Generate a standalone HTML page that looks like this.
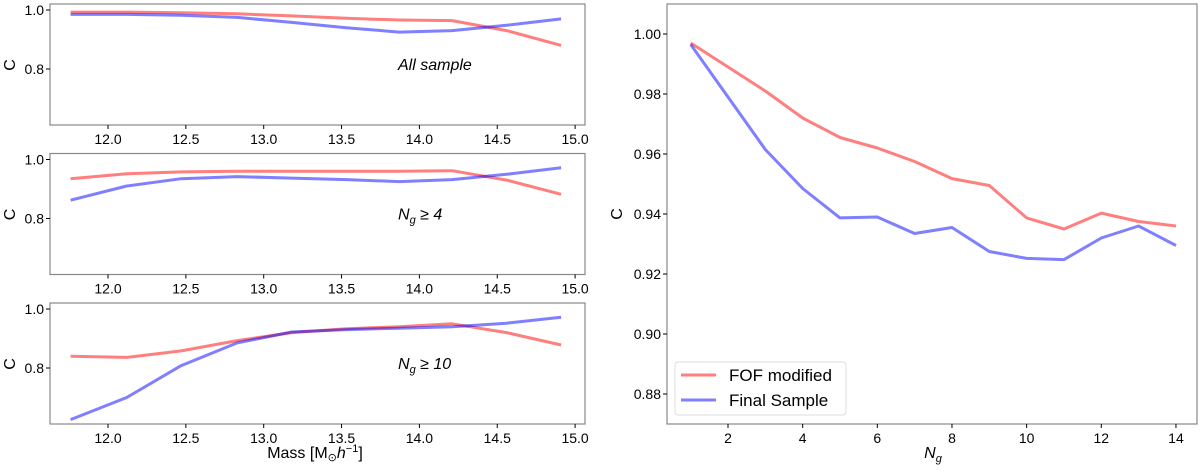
<!DOCTYPE html>
<html><head><meta charset="utf-8"><style>
body{margin:0;background:#fff}
svg text{font-family:"Liberation Sans","DejaVu Sans",sans-serif;fill:#000}
</style></head><body>
<svg id="chart" width="1200" height="469" xmlns="http://www.w3.org/2000/svg"></svg>
<script>
const massX=[11.76,12.12,12.47,12.83,13.18,13.53,13.87,14.21,14.56,14.91];
const p1Red=[0.993,0.993,0.991,0.987,0.98,0.972,0.966,0.964,0.93,0.88];
const p1Blue=[0.985,0.985,0.982,0.975,0.958,0.94,0.925,0.93,0.948,0.97];
const p2Red=[0.935,0.952,0.958,0.96,0.96,0.96,0.96,0.962,0.93,0.882];
const p2Blue=[0.862,0.91,0.935,0.942,0.937,0.932,0.925,0.932,0.95,0.972];
const p3Red=[0.84,0.836,0.858,0.893,0.92,0.933,0.94,0.95,0.92,0.878];
const p3Blue=[0.625,0.7,0.808,0.885,0.922,0.93,0.935,0.94,0.952,0.972];
const massTicks=[12.0,12.5,13.0,13.5,14.0,14.5,15.0];
const leftYTicks=[0.8,1.0];
const ngX=[1,2,3,4,5,6,7,8,9,10,11,12,13,14];
const ngRed=[0.997,0.989,0.981,0.972,0.9655,0.962,0.9575,0.9518,0.9495,0.9387,0.935,0.9403,0.9375,0.936];
const ngBlue=[0.9965,0.979,0.9615,0.9485,0.9387,0.939,0.9335,0.9355,0.9275,0.9252,0.9248,0.932,0.936,0.9295];
const ngTicks=[2,4,6,8,10,12,14];
const rightYTicks=[0.88,0.90,0.92,0.94,0.96,0.98,1.00];
const panelLabels=["All sample","N_g ≥ 4","N_g ≥ 10"];

const svg=document.getElementById('chart');
const NS='http://www.w3.org/2000/svg';
function mk(tag,attrs,parent){const e=document.createElementNS(NS,tag);for(const k in attrs)e.setAttribute(k,attrs[k]);(parent||svg).appendChild(e);return e;}

function drawLine(xs,ys,sx,sy,color,name,g){
  const d=xs.map((x,i)=>(i?'L':'M')+sx(x).toFixed(1)+','+sy(ys[i]).toFixed(1)).join(' ');
  const p=mk('path',{d:d,fill:'none',stroke:color,'stroke-width':3,'stroke-opacity':0.5,'stroke-linejoin':'round'},g);
  
  
}

// left panels
const lx0=50,lx1=585;
const sxM=v=>108+(v-12.0)*155.7;
const tops=[4,153.5,303];
const reds=[p1Red,p2Red,p3Red],blues=[p1Blue,p2Blue,p3Blue];
tops.forEach((top,pi)=>{
  const g=mk('g',{});
  
  
  const bot=top+121;
  const sy=v=>top+6+(1.0-v)*295;
  mk('rect',{x:lx0,y:top,width:lx1-lx0,height:bot-top,fill:'none',stroke:'#888','stroke-width':1.2},g);
  leftYTicks.forEach(t=>{
    mk('line',{x1:lx0-4,x2:lx0,y1:sy(t),y2:sy(t),stroke:'#000'},g);
    const tx=mk('text',{x:lx0-6,y:sy(t)+5,'text-anchor':'end','font-size':14},g);tx.textContent=t.toFixed(1);
  });
  massTicks.forEach(t=>{
    mk('line',{x1:sxM(t),x2:sxM(t),y1:bot,y2:bot+4,stroke:'#000'},g);
    const tx=mk('text',{x:sxM(t),y:bot+19,'text-anchor':'middle','font-size':14},g);tx.textContent=t.toFixed(1);
  });
  const yl=mk('text',{x:0,y:0,'font-size':16,'text-anchor':'middle',transform:`translate(15,${top+61}) rotate(-90)`},g);yl.textContent='C';
  drawLine(massX,reds[pi],sxM,sy,'#ff0000','fof-line-panel-'+(pi+1),g);
  drawLine(massX,blues[pi],sxM,sy,'#0000ff','final-line-panel-'+(pi+1),g);
  const lab=mk('text',{x:398,y:top+66,'font-size':16,'font-style':'italic'},g);
  
  
  const s=panelLabels[pi];
  if(s.startsWith('N_g')){
    const a=mk('tspan',{},lab);a.textContent='N';
    const b=mk('tspan',{'font-size':11,dy:4},lab);b.textContent='g';
    const c=mk('tspan',{dy:-4},lab);c.textContent=s.slice(3);
  } else lab.textContent=s;
});
const xl=mk('text',{x:315,y:458,'text-anchor':'middle','font-size':16});


xl.innerHTML='Mass [M<tspan font-size="11" dy="3">⊙</tspan><tspan dy="-3" font-style="italic">h</tspan><tspan font-size="11" dy="-6">−1</tspan><tspan dy="6">]</tspan>';

// right panel
const rg=mk('g',{});


const rx0=667,rx1=1197,ry0=4,ry1=424;
const sxN=v=>728+(v-2)*37.33;
const syN=v=>34+(1.0-v)*3000;
mk('rect',{x:rx0,y:ry0,width:rx1-rx0,height:ry1-ry0,fill:'none',stroke:'#888','stroke-width':1.2},rg);
rightYTicks.forEach(t=>{
  mk('line',{x1:rx0-4,x2:rx0,y1:syN(t),y2:syN(t),stroke:'#000'},rg);
  const tx=mk('text',{x:rx0-6,y:syN(t)+5,'text-anchor':'end','font-size':14},rg);tx.textContent=t.toFixed(2);
});
ngTicks.forEach(t=>{
  mk('line',{x1:sxN(t),x2:sxN(t),y1:ry1,y2:ry1+4,stroke:'#000'},rg);
  const tx=mk('text',{x:sxN(t),y:ry1+19,'text-anchor':'middle','font-size':14},rg);tx.textContent=t;
});
const ryl=mk('text',{x:0,y:0,'font-size':16,'text-anchor':'middle',transform:'translate(622,214) rotate(-90)'},rg);ryl.textContent='C';
drawLine(ngX,ngRed,sxN,syN,'#ff0000','fof-modified-line',rg);
drawLine(ngX,ngBlue,sxN,syN,'#0000ff','final-sample-line',rg);
const nxl=mk('text',{x:933,y:458,'text-anchor':'middle','font-size':16,'font-style':'italic'},rg);
nxl.innerHTML='N<tspan font-size="11" dy="4">g</tspan>';

// legend
const lg=mk('g',{});


mk('rect',{x:675,y:362,width:171,height:53,rx:3,fill:'#fff',stroke:'#ddd'},lg);
[['FOF modified','#ff0000',375],['Final Sample','#0000ff',400]].forEach(([t,c,y])=>{
  const e=mk('g',{},lg);
  
  
  mk('line',{x1:681,x2:716,y1:y,y2:y,stroke:c,'stroke-width':3,'stroke-opacity':0.5},e);
  const tx=mk('text',{x:729,y:y+6,'font-size':17},e);tx.textContent=t;
});
</script>
</body></html>
